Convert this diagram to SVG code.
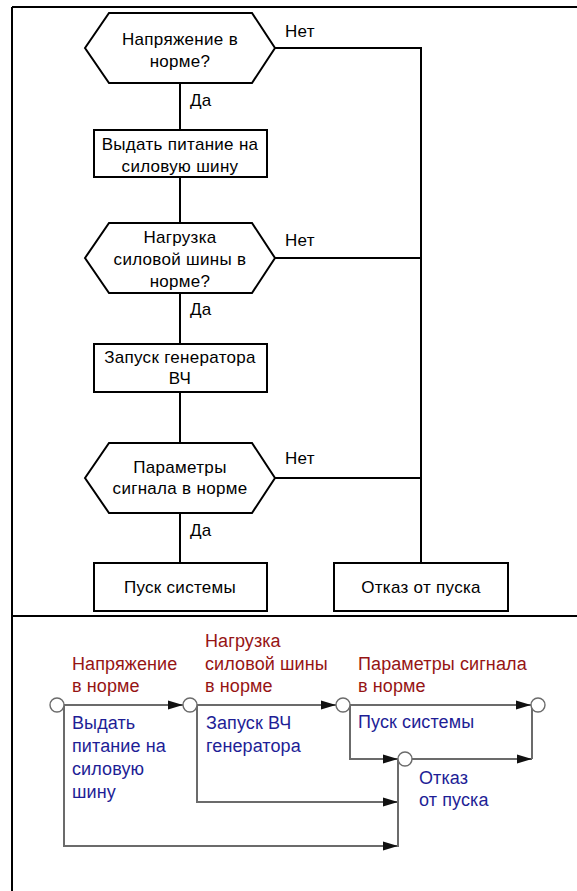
<svg xmlns="http://www.w3.org/2000/svg" width="577" height="891" viewBox="0 0 577 891">
<defs>
<style>
.frame{stroke:#000;stroke-width:2;fill:none}
.shape{fill:#fff;stroke:#000;stroke-width:2}
.ln{fill:none;stroke:#000;stroke-width:2}
.t{font-family:"Liberation Sans",Arial,sans-serif;font-size:17px;letter-spacing:0.3px;fill:#000}
.tm{text-anchor:middle}
.g{fill:none;stroke:#6b6b6b;stroke-width:2}
.c{fill:#fff;stroke:#6b6b6b;stroke-width:1.4}
.r{font-family:"Liberation Sans",Arial,sans-serif;font-size:18px;letter-spacing:0.1px;fill:#961414}
.b{font-family:"Liberation Sans",Arial,sans-serif;font-size:18px;letter-spacing:0.1px;fill:#1e1e96}
</style>
<marker id="ah" markerUnits="userSpaceOnUse" markerWidth="15" markerHeight="10" refX="15" refY="5" orient="auto">
<path d="M0,0.5 L15,5 L0,9.5 Z" fill="#111"/>
</marker>
</defs>
<rect width="577" height="891" fill="#fff"/>
<g id="frame">
<path class="frame" d="M12,7 H577 M12,7 V891 M12,616 H577"/>
</g>
<g id="connectors">
<path class="ln" d="M180,83 V130 M180,177 V223 M180,293 V344 M180,392 V443 M180,513 V563"/>
<path class="ln" d="M275,48 H421 V563 M275,258 H421 M275,478 H421"/>
<text class="t" x="285" y="37">Нет</text>
<text class="t" x="190" y="106">Да</text>
<text class="t" x="285" y="246">Нет</text>
<text class="t" x="190" y="315">Да</text>
<text class="t" x="285" y="464">Нет</text>
<text class="t" x="190" y="536">Да</text>
</g>
<g id="n1">
<polygon class="shape" points="85,48 109,13 252,13 275,48 252,83 109,83"/>
<text class="t tm" x="180" y="45">Напряжение в</text>
<text class="t tm" x="180" y="67">норме?</text>
</g>
<g id="n2">
<rect class="shape" x="94" y="130" width="173" height="47"/>
<text class="t tm" x="180" y="150">Выдать питание на</text>
<text class="t tm" x="180" y="172">силовую шину</text>
</g>
<g id="n3">
<polygon class="shape" points="85,258 109,223 252,223 275,258 252,293 109,293"/>
<text class="t tm" x="180" y="243">Нагрузка</text>
<text class="t tm" x="180" y="265">силовой шины в</text>
<text class="t tm" x="180" y="287">норме?</text>
</g>
<g id="n4">
<rect class="shape" x="94" y="344" width="173" height="48"/>
<text class="t tm" x="180" y="363">Запуск генератора</text>
<text class="t tm" x="180" y="384">ВЧ</text>
</g>
<g id="n5">
<polygon class="shape" points="85,478 109,443 252,443 275,478 252,513 109,513"/>
<text class="t tm" x="180" y="473">Параметры</text>
<text class="t tm" x="180" y="494">сигнала в норме</text>
</g>
<g id="n6">
<rect class="shape" x="94" y="563" width="173" height="48"/>
<text class="t tm" x="180" y="593">Пуск системы</text>
</g>
<g id="n7">
<rect class="shape" x="334" y="563" width="174" height="48"/>
<text class="t tm" x="421" y="593">Отказ от пуска</text>
</g>
<g id="net-connectors">
<path class="g" d="M64,705 H183" marker-end="url(#ah)"/>
<path class="g" d="M64,705 V846 H398" marker-end="url(#ah)"/>
<path class="g" d="M197,705 H336" marker-end="url(#ah)"/>
<path class="g" d="M197,705 V802 H398" marker-end="url(#ah)"/>
<path class="g" d="M350,705 H531" marker-end="url(#ah)"/>
<path class="g" d="M350,705 V759 H398" marker-end="url(#ah)"/>
<path class="g" d="M412,759 H532" marker-end="url(#ah)"/>
<path class="g" d="M532,705 V759"/>
<path class="g" d="M398,759 V847"/>
</g>
<g id="p1">
<circle class="c" cx="57" cy="705" r="7"/>
<text class="r" x="72" y="670">Напряжение</text>
<text class="r" x="72" y="692">в норме</text>
</g>
<g id="p2">
<circle class="c" cx="190" cy="705" r="7"/>
<text class="r" x="205" y="647">Нагрузка</text>
<text class="r" x="205" y="670">силовой шины</text>
<text class="r" x="205" y="692">в норме</text>
</g>
<g id="p3">
<circle class="c" cx="343" cy="705" r="7"/>
<text class="r" x="358" y="670">Параметры сигнала</text>
<text class="r" x="358" y="692">в норме</text>
</g>
<g id="p4">
<circle class="c" cx="538" cy="705" r="7"/>
</g>
<g id="p5">
<circle class="c" cx="405" cy="759" r="7"/>
<text class="b" x="419" y="784">Отказ</text>
<text class="b" x="419" y="806">от пуска</text>
</g>
<g id="t1">
<text class="b" x="72" y="729">Выдать</text>
<text class="b" x="72" y="752">питание на</text>
<text class="b" x="72" y="775">силовую</text>
<text class="b" x="72" y="798">шину</text>
</g>
<g id="t2">
<text class="b" x="206" y="729">Запуск ВЧ</text>
<text class="b" x="206" y="752">генератора</text>
</g>
<g id="t3">
<text class="b" x="358" y="728">Пуск системы</text>
</g>
</svg>
